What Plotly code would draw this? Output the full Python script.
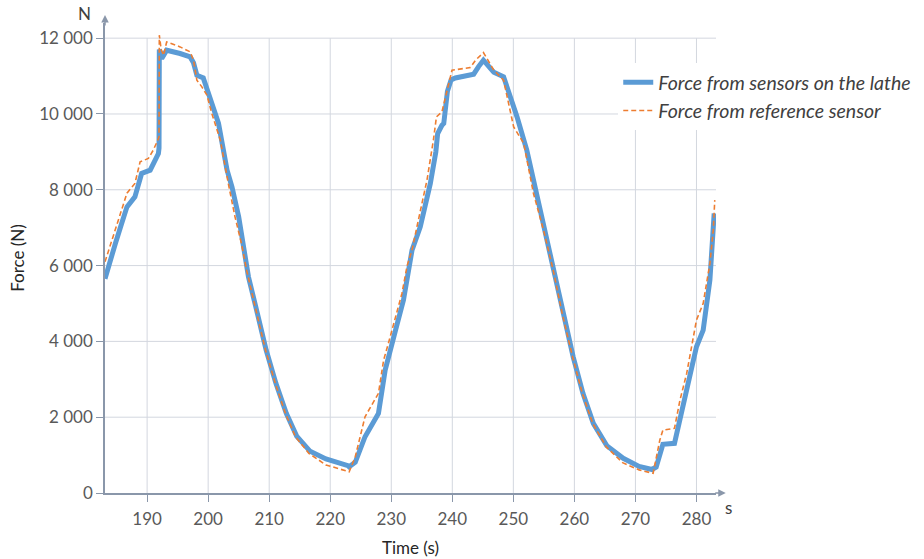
import plotly.graph_objects as go

# ---- data ----
t_lathe = [183.1, 184.0, 184.8, 185.8, 186.7, 188.0, 189.1, 190.5, 191.85, 191.95,
           192.0, 192.4, 193.2, 195.4, 197.05, 197.6, 198.15, 199.2, 200.3, 201.7,
           203.1, 203.9, 205.0, 206.6, 207.8, 209.5, 211.1, 212.8, 214.5, 216.7,
           219.3, 221.5, 222.9, 223.1, 224.1, 225.7, 227.9, 229.0, 230.1, 230.7,
           232.0, 232.85, 233.4, 234.75, 236.4, 237.3, 237.6, 238.3, 238.6, 239.2,
           239.8, 240.5, 242.5, 243.5, 244.3, 245.1, 246.0, 246.8, 248.4, 248.95,
           250.6, 252.2, 253.3, 255.0, 256.6, 258.1, 259.8, 261.4, 263.1, 265.3,
           268.0, 270.6, 272.7, 273.4, 274.5, 276.4, 277.3, 278.9, 280.0, 281.1,
           282.2, 282.9]
f_lathe = [5650, 6200, 6584, 7100, 7550, 7813, 8430, 8517, 8957, 9100,
           11700, 11463, 11682, 11595, 11505, 11350, 11022, 10950, 10452, 9749,
           8518, 8078, 7286, 5705, 4913, 3771, 2893, 2102, 1500, 1100,
           900, 800, 720, 690, 810, 1485, 2100, 3243, 3858, 4298,
           5090, 5793, 6408, 7022, 8167, 9000, 9485, 9700, 9750, 10600,
           10900, 10950, 11000, 11050, 11250, 11420, 11250, 11100, 10980, 10715,
           9924, 9045, 8254, 7022, 5800, 4738, 3594, 2629, 1838, 1250,
           915, 700, 620, 686, 1283, 1310, 1925, 2980, 3858, 4298,
           5617, 7375]

t_ref = [183.1, 184.8, 186.7, 188.0, 188.85, 190.2, 191.0, 191.75, 191.95, 192.0,
         192.3, 192.7, 193.2, 195.4, 197.05, 197.6, 198.15, 198.97, 199.8, 200.6,
         202.0, 203.3, 204.4, 205.5, 206.3, 207.7, 209.4, 211.0, 212.65, 214.3,
         216.5, 219.3, 221.5, 223.1, 224.1, 225.7, 227.9, 228.75, 229.6, 230.7,
         231.75, 232.6, 233.4, 234.2, 235.85, 236.9, 237.4, 238.3, 238.9, 239.95,
         242.95, 243.8, 245.1, 246.8, 248.4, 250.05, 251.7, 253.3, 255.0, 256.5,
         258.0, 259.7, 261.3, 263.0, 265.2, 267.9, 270.6, 272.9, 274.0, 274.5,
         276.4, 277.3, 278.4, 280.0, 281.1, 282.2, 282.75, 283.0]
f_ref = [6100, 6935, 7911, 8167, 8737, 8826, 9045, 9309, 9400, 12080,
         11700, 11550, 11900, 11770, 11640, 11418, 10891, 10716, 10495, 10013,
         9309, 8167, 7286, 6550, 5880, 4913, 3771, 2893, 2102, 1485,
         1047, 740, 640, 560, 957, 2012, 2629, 3507, 3990, 4650,
         5266, 6000, 6408, 7022, 8254, 9309, 9924, 10056, 10451, 11155,
         11225, 11418, 11620, 11155, 10891, 9660, 9222, 7903, 6900, 5900,
         4738, 3594, 2629, 1838, 1221, 800, 610, 519, 1398, 1661,
         1706, 2452, 3156, 4562, 5002, 6057, 6935, 7726]

x_ticks = [190, 200, 210, 220, 230, 240, 250, 260, 270, 280]
y_ticks = [0, 2000, 4000, 6000, 8000, 10000, 12000]
y_tick_text = ["0", "2 000", "4 000", "6 000", "8 000", "10 000", "12 000"]

x_range = [183.1, 283.2]
y_range = [0, 12400]

FONT = "Lato"
GRID = "#d3d7df"
AXIS = "#8a97aa"

fig = go.Figure()
fig.add_trace(go.Scatter(
    x=t_lathe, y=f_lathe, mode="lines",
    name="Force from sensors on the lathe",
    line=dict(color="#5b9bd5", width=5),
))
fig.add_trace(go.Scatter(
    x=t_ref, y=f_ref, mode="lines",
    name="Force from reference sensor",
    line=dict(color="#ed7d31", width=1.6, dash="5px,3px"),
))

# grid lines built from the tick arrays (limited to 0..12000 like the reference)
shapes = []
for xv in x_ticks:
    shapes.append(dict(type="line", xref="x", yref="y", x0=xv, x1=xv,
                       y0=y_ticks[0], y1=y_ticks[-1],
                       line=dict(color=GRID, width=1), layer="below"))
for yv in y_ticks[1:]:
    shapes.append(dict(type="line", xref="paper", yref="y", x0=0, x1=1,
                       y0=yv, y1=yv,
                       line=dict(color=GRID, width=1), layer="below"))

annotations = [
    # y-axis arrow
    dict(xref="paper", yref="paper", x=0, y=1.017, ax=0, ay=12, axref="pixel",
         ayref="pixel", text="", showarrow=True, arrowhead=2, arrowsize=1,
         arrowwidth=1.5, arrowcolor=AXIS),
    # x-axis arrow
    dict(xref="paper", yref="paper", x=1.016, y=0, ax=-12, ay=0, text="",
         showarrow=True, arrowhead=2, arrowsize=1, arrowwidth=1.5,
         arrowcolor=AXIS),
    dict(xref="paper", yref="paper", x=-0.019, y=1.021, text="N", showarrow=False,
         xanchor="right", font=dict(family=FONT, size=17, color="#404040"),
         yanchor="middle"),
    dict(xref="paper", yref="paper", x=1.03, y=-0.005, text="s", showarrow=False,
         font=dict(family=FONT, size=17, color="#404040"), yanchor="top"),
]

fig.update_layout(
    width=924, height=559,
    margin=dict(l=105, r=208, t=23, b=66, autoexpand=False),
    paper_bgcolor="white", plot_bgcolor="white",
    font=dict(family=FONT, size=17, color="#595959"),
    showlegend=True,
    legend=dict(x=0.84, y=0.915, xanchor="left", yanchor="top",
                bgcolor="white", borderwidth=0,
                font=dict(family=FONT, size=19.5, color="#404040", style="italic")),
    shapes=shapes,
    annotations=annotations,
    xaxis=dict(range=x_range, tickvals=x_ticks, showgrid=False, zeroline=False,
               automargin=False,
               showline=True, linecolor=AXIS, linewidth=1.5,
               ticks="outside", ticklen=7, tickcolor=AXIS, tickwidth=1.2,
               ticklabelstandoff=3,
               tickfont=dict(family=FONT, size=17, color="#595959"),
               title=dict(text="Time (s)", standoff=14,
                          font=dict(family=FONT, size=17, color="#262626"))),
    yaxis=dict(range=y_range, tickvals=y_ticks, ticktext=y_tick_text,
               showgrid=False, zeroline=False, automargin=False,
               showline=True, linecolor=AXIS, linewidth=1.5,
               ticks="outside", ticklen=7, tickcolor=AXIS, tickwidth=1.2,
               tickfont=dict(family=FONT, size=17, color="#595959"),
               title=dict(text="Force (N)", standoff=10,
                          font=dict(family=FONT, size=17, color="#262626"))),
)

fig.write_html("out.html")
